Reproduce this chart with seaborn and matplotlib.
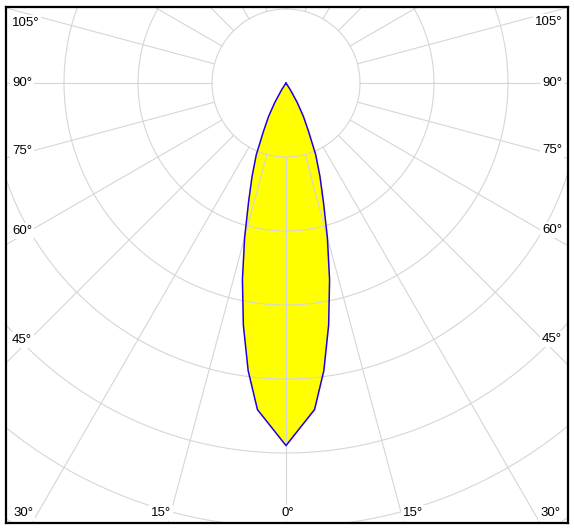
import numpy as np
import pandas as pd
import seaborn as sns
import matplotlib.pyplot as plt

# ---- data (luminous intensity, symmetric beam) ----
angles_deg = [0, 5, 7.5, 10, 12.5, 15, 17.5, 20, 22.5, 25, 27.5, 30, 32.5, 35]
intensity = [490, 443, 392, 332, 272, 216, 168, 134, 105, 72, 51, 30, 11, 0]

ring_values = [100, 200, 300, 400, 500, 600, 700]
grid_angles = list(range(0, 360, 15))

side_labels = ["105°", "90°", "75°", "60°", "45°"]
bottom_labels = ["30°", "15°", "0°", "15°", "30°"]

sns.set_theme(style="white")
plt.rcParams['font.family'] = ['Liberation Sans', 'DejaVu Sans']

# full symmetric curve
ang = np.array(angles_deg, dtype=float)
val = np.array(intensity, dtype=float)
theta = np.concatenate([-ang[::-1], ang[1:]])
r = np.concatenate([val[::-1], val[1:]])
t = np.deg2rad(theta)
df = pd.DataFrame({"x": r * np.sin(t), "y": -r * np.cos(t)})

fig = plt.figure(figsize=(5.74, 5.29), dpi=100)
ax = fig.add_axes([6 / 574, 6 / 529, 562 / 574, 516 / 529])
ax.set_xlim(-378.4, 381.1)
ax.set_ylim(-594.6, 102.7)

# fill
ax.fill(df["x"], df["y"], color="#ffff00", lw=0, zorder=1)

# grid circles
grid_col = "#d6d6d6"
tt = np.linspace(0, 2 * np.pi, 600)
for rv in ring_values:
    ax.plot(rv * np.cos(tt), rv * np.sin(tt), color=grid_col, lw=0.8, zorder=2)
# radial lines
for a in grid_angles:
    ar = np.deg2rad(a)
    ax.plot([100 * np.sin(ar), 1200 * np.sin(ar)], [-100 * np.cos(ar), -1200 * np.cos(ar)],
            color=grid_col, lw=0.8, zorder=2)

# outline
sns.lineplot(data=df, x="x", y="y", sort=False, estimator=None, color="#2200dd",
             lw=1.1, zorder=3, ax=ax)

# labels (pixel positions -> axes fraction)
def fx(px):
    return (px - 6) / 562

def fy(py):
    return (523 - py) / 516

bbox = dict(boxstyle="square,pad=0.15", fc="white", ec="none")
fs = 9.5
left_y = [23, 83, 151, 231, 340]
right_y = [22, 83, 150, 230, 339]
for lab, py in zip(side_labels, left_y):
    ax.text(fx(12), fy(py), lab, transform=ax.transAxes, ha="left", va="center",
            fontsize=fs, color="black", bbox=bbox, zorder=5)
for lab, py in zip(side_labels, right_y):
    ax.text(fx(562), fy(py), lab, transform=ax.transAxes, ha="right", va="center",
            fontsize=fs, color="black", bbox=bbox, zorder=5)
bottom_x = [13, 161, 288, 413, 560]
bottom_ha = ["left", "center", "center", "center", "right"]
for lab, px, ha in zip(bottom_labels, bottom_x, bottom_ha):
    ax.text(fx(px), fy(513), lab, transform=ax.transAxes, ha=ha, va="center",
            fontsize=fs, color="black", bbox=bbox, zorder=5)

ax.set_xticks([])
ax.set_yticks([])
ax.set_xlabel("")
ax.set_ylabel("")
for s in ax.spines.values():
    s.set_visible(True)
    s.set_color("black")
    s.set_linewidth(1.6)

fig.savefig("out.png", dpi=100)
